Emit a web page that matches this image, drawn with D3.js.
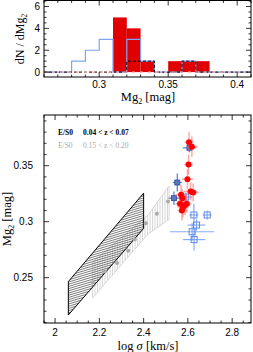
<!DOCTYPE html>
<html>
<head>
<meta charset="utf-8">
<script src="https://cdn.jsdelivr.net/npm/d3@7"></script>
<style>
  body { margin: 0; background: #fff; }
  svg { display: block; font-family: 'Liberation Serif', 'DejaVu Serif', serif; }
  .tick-label { font-family: 'Liberation Sans', 'DejaVu Sans', sans-serif; font-size: 10px; }
</style>
</head>
<body>
<svg id="canvas" width="253" height="352"></svg>
<script>
// histogram bins (Mg2 lower edges, width 0.01)
let binStarts = [0.26, 0.27, 0.28, 0.29, 0.30, 0.31, 0.32, 0.33, 0.34, 0.35, 0.36, 0.37, 0.38, 0.39, 0.40]
let redCounts = [0, 0, 0, 0, 0, 5, 4, 1, 0, 1, 1, 1, 0, 0, 0]
let blueCounts = [0, 0, 1, 2, 3, 0, 3, 1, 0, 0, 1, 0, 0, 0, 0]
let blackCounts = [0, 0, 0, 0, 0, 0, 1, 1, 0, 0, 1, 0, 0, 0, 0]

// red points: log sigma, Mg2, errors
let redSigma = [2.605, 2.618, 2.603, 2.598, 2.612, 2.624, 2.569, 2.575, 2.587, 2.564, 2.595, 2.578, 2.573]
let redMg2 = [0.371, 0.367, 0.351, 0.338, 0.327, 0.326, 0.324, 0.321, 0.315, 0.316, 0.316, 0.313, 0.310]
let redSigErr = [0.02, 0.025, 0.02, 0.025, 0.03, 0.025, 0.025, 0.02, 0.025, 0.02, 0.02, 0.025, 0.02]
let redMgErr = [0.009, 0.009, 0.009, 0.009, 0.008, 0.008, 0.009, 0.008, 0.009, 0.008, 0.008, 0.009, 0.009]

// blue filled squares
let bfSigma = [2.607, 2.552, 2.537]
let bfMg2 = [0.366, 0.335, 0.321]
let bfSigErr = [0.03, 0.02, 0.025]
let bfMgErr = [0.004, 0.008, 0.006]

// blue open squares
let boSigma = [2.627, 2.687, 2.639, 2.619, 2.628, 2.590]
let boMg2 = [0.306, 0.306, 0.297, 0.291, 0.284, 0.322]
let boSigErr = [0.02, 0.02, 0.04, 0.1, 0.05, 0.03]
let boMgErr = [0.01, 0.004, 0.005, 0.008, 0.01, 0.004]

// grey points (0.15 < z < 0.20)
let greySigma = [2.17, 2.225, 2.28, 2.33, 2.36, 2.41, 2.46, 2.51]
let greyMg2 = [0.246, 0.2555, 0.263, 0.274, 0.284, 0.2985, 0.307, 0.318]

// grey band edges
let greyBandSigma = [2.17, 2.42, 2.515]
let greyBandHi = [0.264, 0.306, 0.332]
let greyBandLo = [0.232, 0.289, 0.302]

// black band edges
let blackBandSigma = [2.06, 2.40]
let blackBandHi = [0.2465, 0.3255]
let blackBandLo = [0.2167, 0.294]

let svg = d3.select('#canvas')
let defs = svg.append('defs')

// ---------- top panel ----------
let topBox = { l: 44, r: 251, t: 0.5, b: 77 }
let hx = d3.scaleLinear().domain([0.26, 0.41]).range([topBox.l, topBox.r])
let hy = d3.scaleLinear().domain([-0.45, 6.55]).range([topBox.b, topBox.t])

let topG = svg.append('g')

let stepLine = (counts) => {
    let pts = []
    binStarts.forEach((b, i) => {
        pts.push([hx(b), hy(counts[i])])
        pts.push([hx(b + 0.01), hy(counts[i])])
    })
    return d3.line()(pts)
}

// red filled bars
binStarts.forEach((b, i) => {
    if (redCounts[i] > 0) {
        topG.append('rect')
            .attr('x', hx(b)).attr('y', hy(redCounts[i]))
            .attr('width', hx(b + 0.01) - hx(b))
            .attr('height', hy(0) - hy(redCounts[i]))
            .attr('fill', '#e00000')
    }
})
topG.append('path').attr('d', stepLine(blueCounts))
    .attr('fill', 'none').attr('stroke', '#7fa3f5').attr('stroke-width', 1.2)
topG.append('path').attr('d', stepLine(blackCounts))
    .attr('fill', 'none').attr('stroke', '#000').attr('stroke-width', 1)
    .attr('stroke-dasharray', '3,2')
// pink dashes on the zero line
topG.append('line')
    .attr('x1', hx(0.26)).attr('x2', hx(0.41)).attr('y1', hy(0)).attr('y2', hy(0))
    .attr('stroke', '#ffaaaa').attr('stroke-width', 1.2).attr('stroke-dasharray', '3,5')

let drawFrame = (g, xs, ys, box, xMinor, yMinor, xMajor, yMajor) => {
    g.append('rect')
        .attr('x', box.l).attr('y', box.t)
        .attr('width', box.r - box.l).attr('height', box.b - box.t)
        .attr('fill', 'none').attr('stroke', '#000').attr('stroke-width', 1)
    let xd = xs.domain(), yd = ys.domain()
    let eps = 1e-9
    for (let v = Math.ceil(xd[0] / xMinor - eps) * xMinor; v <= xd[1] + eps; v += xMinor) {
        let major = Math.abs(v / xMajor - Math.round(v / xMajor)) < 1e-6
        let len = major ? 5 : 2.5
        let px = xs(v)
        g.append('line').attr('x1', px).attr('x2', px).attr('y1', box.b).attr('y2', box.b - len).attr('stroke', '#000').attr('stroke-width', 0.8)
        g.append('line').attr('x1', px).attr('x2', px).attr('y1', box.t).attr('y2', box.t + len).attr('stroke', '#000').attr('stroke-width', 0.8)
    }
    for (let v = Math.ceil(yd[0] / yMinor - eps) * yMinor; v <= yd[1] + eps; v += yMinor) {
        let major = Math.abs(v / yMajor - Math.round(v / yMajor)) < 1e-6
        let len = major ? 5 : 2.5
        let py = ys(v)
        g.append('line').attr('y1', py).attr('y2', py).attr('x1', box.l).attr('x2', box.l + len).attr('stroke', '#000').attr('stroke-width', 0.8)
        g.append('line').attr('y1', py).attr('y2', py).attr('x1', box.r).attr('x2', box.r - len).attr('stroke', '#000').attr('stroke-width', 0.8)
    }
}

drawFrame(topG, hx, hy, topBox, 0.01, 0.5, 0.05, 2)

let topXTicks = [0.3, 0.35, 0.4]
let topYTicks = [0, 2, 4, 6]
topXTicks.forEach((t) => {
    topG.append('text').attr('class', 'tick-label').attr('x', hx(t)).attr('y', 88).attr('text-anchor', 'middle').text(t)
})
topYTicks.forEach((t) => {
    topG.append('text').attr('class', 'tick-label').attr('x', 40).attr('y', hy(t) + 3.5).attr('text-anchor', 'end').text(t)
})
let tx = topG.append('text').attr('x', 148).attr('y', 101).attr('text-anchor', 'middle').attr('font-size', 12.5)
tx.append('tspan').text('Mg')
tx.append('tspan').attr('font-size', 8).attr('dy', 2.5).text('2')
tx.append('tspan').attr('dy', -2.5).text(' [mag]')
let ty = topG.append('text').attr('transform', 'translate(24,39) rotate(-90)').attr('text-anchor', 'middle').attr('font-size', 12)
ty.append('tspan').text('dN / dMg')
ty.append('tspan').attr('font-size', 7.5).attr('dy', 2.5).text('2')

// ---------- bottom panel ----------
let botBox = { l: 44, r: 251, t: 115, b: 323 }
let x = d3.scaleLinear().domain([1.95, 2.885]).range([botBox.l, botBox.r])
let y = d3.scaleLinear().domain([0.2095, 0.3953]).range([botBox.b, botBox.t])

let botG = svg.append('g')

// hatched region: outline + lines clipped to it
let hatchBand = (id, sig, lo, hi, lineFn, step, color, width, edge, edgeW) => {
    let area = d3.area()
        .x((d, i) => x(sig[i]))
        .y0((d, i) => y(lo[i]))
        .y1((d, i) => y(hi[i]))
    defs.append('clipPath').attr('id', id).append('path').attr('d', area(sig))
    let g = botG.append('g').attr('clip-path', 'url(#' + id + ')')
    for (let k = -200; k <= 400; k += step) {
        let l = lineFn(k)
        g.append('line').attr('x1', l[0]).attr('y1', l[1]).attr('x2', l[2]).attr('y2', l[3])
            .attr('stroke', color).attr('stroke-width', width)
    }
    botG.append('path').attr('d', area(sig))
        .attr('fill', 'none').attr('stroke', edge).attr('stroke-width', edgeW)
}

// grey band: vertical hatching
hatchBand('clipGrey', greyBandSigma, greyBandLo, greyBandHi,
    (k) => [k, 0, k, 352], 2.5, '#bdbdbd', 0.6, '#c8c8c8', 0.7)

// black band: dense, slightly tilted hatching
hatchBand('clipBlack', blackBandSigma, blackBandLo, blackBandHi,
    (k) => [0, k + 100, 253, k + 100 - 253 * 0.3], 2.2, '#111', 0.55, '#000', 1)

// grey points
botG.selectAll('.grey').data(greySigma).enter().append('circle')
    .attr('cx', (d) => x(d)).attr('cy', (d, i) => y(greyMg2[i]))
    .attr('r', 2).attr('fill', '#aaa')

let errBars = (sig, mg, se, me, color, width, op) => {
    sig.forEach((s, i) => {
        botG.append('line').attr('x1', x(s - se[i])).attr('x2', x(s + se[i]))
            .attr('y1', y(mg[i])).attr('y2', y(mg[i]))
            .attr('stroke', color).attr('stroke-width', width).attr('opacity', op)
        botG.append('line').attr('x1', x(s)).attr('x2', x(s))
            .attr('y1', y(mg[i] - me[i])).attr('y2', y(mg[i] + me[i]))
            .attr('stroke', color).attr('stroke-width', width).attr('opacity', op)
    })
}

// blue open squares
errBars(boSigma, boMg2, boSigErr, boMgErr, '#6d98f2', 1.2, 0.8)
botG.selectAll('.bo').data(boSigma).enter().append('rect')
    .attr('x', (d) => x(d) - 3).attr('y', (d, i) => y(boMg2[i]) - 3)
    .attr('width', 6).attr('height', 6)
    .attr('fill', 'none').attr('stroke', '#5b88ee').attr('stroke-width', 1)

// blue filled squares
errBars(bfSigma, bfMg2, bfSigErr, bfMgErr, '#3d62c4', 1.2, 0.85)
botG.selectAll('.bf').data(bfSigma).enter().append('rect')
    .attr('x', (d) => x(d) - 2.5).attr('y', (d, i) => y(bfMg2[i]) - 2.5)
    .attr('width', 5).attr('height', 5)
    .attr('fill', '#5a78c0').attr('stroke', '#2a4a9a').attr('stroke-width', 0.8)

// red points
errBars(redSigma, redMg2, redSigErr, redMgErr, '#ff6060', 1.5, 0.55)
botG.selectAll('.red').data(redSigma).enter().append('circle')
    .attr('cx', (d) => x(d)).attr('cy', (d, i) => y(redMg2[i]))
    .attr('r', 3).attr('fill', '#ff0000')

drawFrame(botG, x, y, botBox, 0.05, 0.01, 0.2, 0.05)

let botXTicks = [2, 2.2, 2.4, 2.6, 2.8]
let botYTicks = [0.25, 0.3, 0.35]
botXTicks.forEach((t) => {
    botG.append('text').attr('class', 'tick-label').attr('x', x(t)).attr('y', 335.5).attr('text-anchor', 'middle').text(t)
})
botYTicks.forEach((t) => {
    botG.append('text').attr('class', 'tick-label').attr('x', 33).attr('y', y(t) + 3.5).attr('text-anchor', 'end').text(t)
})
let bx = botG.append('text').attr('x', 148).attr('y', 349.5).attr('text-anchor', 'middle').attr('font-size', 12.5)
bx.append('tspan').text('log ')
bx.append('tspan').attr('font-style', 'italic').text('σ')
bx.append('tspan').text(' [km/s]')
let by = botG.append('text').attr('transform', 'translate(11,219) rotate(-90)').attr('text-anchor', 'middle').attr('font-size', 12.5)
by.append('tspan').text('Mg')
by.append('tspan').attr('font-size', 8).attr('dy', 2.5).text('2')
by.append('tspan').attr('dy', -2.5).text(' [mag]')

// legend
let legendLabels = ['E/S0', 'E/S0']
let legendRanges = ['0.04 < z < 0.07', '0.15 < z < 0.20']
let legendColors = ['#000', '#aaa']
legendLabels.forEach((l, i) => {
    botG.append('text').attr('x', 58).attr('y', 135 + i * 13).attr('font-size', 7.5)
        .attr('font-weight', i === 0 ? 'bold' : 'normal')
        .attr('fill', legendColors[i]).text(l)
    botG.append('text').attr('x', 83).attr('y', 135 + i * 13).attr('font-size', 7.5)
        .attr('font-weight', i === 0 ? 'bold' : 'normal')
        .attr('fill', legendColors[i]).text(legendRanges[i])
})
</script>
</body>
</html>
